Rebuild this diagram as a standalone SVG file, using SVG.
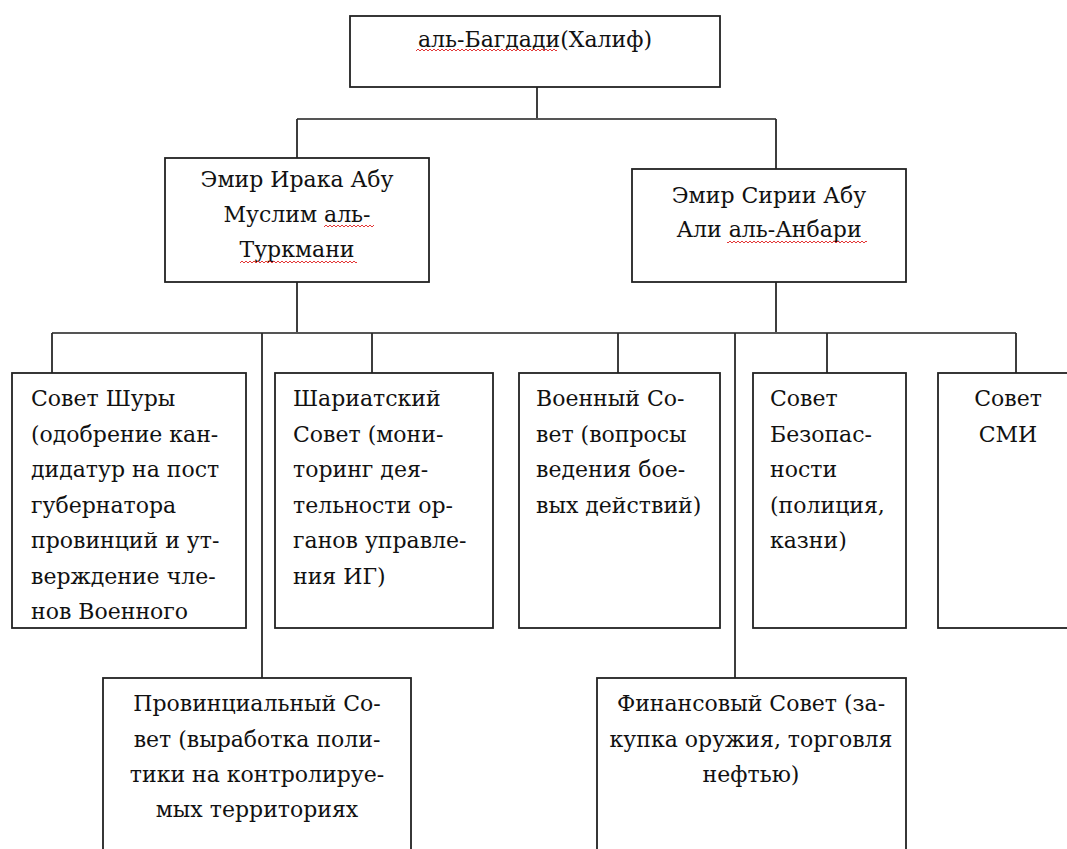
<svg xmlns="http://www.w3.org/2000/svg" width="1067" height="849" viewBox="0 0 1067 849">
<style>
.box{fill:#fff;stroke:#222;stroke-width:1.8}
.ln{stroke:#2a2a2a;stroke-width:1.8;fill:none}
.hl{stroke:#555;stroke-width:2.2;fill:none}
text{font-family:"DejaVu Serif","Liberation Serif",serif;font-size:22px;fill:#111}
.c{text-anchor:middle}
</style>
<defs>
<pattern id="sq" width="4" height="4" patternUnits="userSpaceOnUse">
<polyline points="0,3 2,1 4,3" fill="none" stroke="#e02020" stroke-width="0.9"/>
</pattern>
</defs>
<rect width="1067" height="849" fill="#fff"/>
<g id="connectors">
<path class="ln" d="M537,87 V119"/>
<path class="hl" d="M297,119 H776"/>
<path class="ln" d="M297,119 V158 M776,119 V169"/>
<path class="ln" d="M297,282 V333 M776,282 V333"/>
<path class="hl" d="M52,333 H1016"/>
<path class="ln" d="M52,333 V373 M372,333 V373 M618,333 V373 M827,333 V373 M1016,333 V373"/>
<path class="ln" d="M262,333 V678 M735,333 V678"/>
</g>
<g id="caliph">
<rect class="box" x="350" y="16" width="370" height="71"/>
<text class="c" transform="translate(535,47) scale(1,1)">аль-Багдади(Халиф)</text>
<rect x="416" y="48" width="141" height="4" fill="url(#sq)"/>
</g>
<g id="emir-iraq">
<rect class="box" x="165" y="158" width="264" height="124"/>
<text class="c" transform="translate(297,187) scale(1,1)">Эмир Ирака Абу</text>
<text class="c" transform="translate(297,222) scale(1,1)">Муслим аль-</text>
<text class="c" transform="translate(297,257) scale(1,1)">Туркмани</text>
<rect x="324" y="224" width="50" height="4" fill="url(#sq)"/>
<rect x="240" y="260" width="117" height="4" fill="url(#sq)"/>
</g>
<g id="emir-syria">
<rect class="box" x="632" y="169" width="274" height="113"/>
<text class="c" transform="translate(769,203) scale(1,1)">Эмир Сирии Абу</text>
<text class="c" transform="translate(769,237) scale(1,1)">Али аль-Анбари</text>
<rect x="727" y="240" width="140" height="4" fill="url(#sq)"/>
</g>
<g id="shura">
<rect class="box" x="12" y="373" width="234" height="255"/>
<text transform="translate(31,406) scale(1,1)">Совет Шуры</text>
<text transform="translate(31,441.5) scale(1,1)">(одобрение кан-</text>
<text transform="translate(31,477) scale(1,1)">дидатур на пост</text>
<text transform="translate(31,512.5) scale(1,1)">губернатора</text>
<text transform="translate(31,548) scale(1,1)">провинций и ут-</text>
<text transform="translate(31,583.5) scale(1,1)">верждение чле-</text>
<text transform="translate(31,619) scale(1,1)">нов Военного</text>
</g>
<g id="sharia">
<rect class="box" x="275" y="373" width="218" height="255"/>
<text transform="translate(293,406) scale(1,1)">Шариатский</text>
<text transform="translate(293,441.5) scale(1,1)">Совет (мони-</text>
<text transform="translate(293,477) scale(1,1)">торинг дея-</text>
<text transform="translate(293,512.5) scale(1,1)">тельности ор-</text>
<text transform="translate(293,548) scale(1,1)">ганов управле-</text>
<text transform="translate(293,583.5) scale(1,1)">ния ИГ)</text>
</g>
<g id="military">
<rect class="box" x="519" y="373" width="201" height="255"/>
<text transform="translate(536,406) scale(1,1)">Военный Со-</text>
<text transform="translate(536,441.5) scale(1,1)">вет (вопросы</text>
<text transform="translate(536,477) scale(1,1)">ведения бое-</text>
<text transform="translate(536,512.5) scale(1,1)">вых действий)</text>
</g>
<g id="security">
<rect class="box" x="753" y="373" width="153" height="255"/>
<text transform="translate(770,406) scale(1,1)">Совет</text>
<text transform="translate(770,441.5) scale(1,1)">Безопас-</text>
<text transform="translate(770,477) scale(1,1)">ности</text>
<text transform="translate(770,512.5) scale(1,1)">(полиция,</text>
<text transform="translate(770,548) scale(1,1)">казни)</text>
</g>
<g id="media">
<rect class="box" x="938" y="373" width="140" height="255"/>
<text class="c" transform="translate(1008,406) scale(1,1)">Совет</text>
<text class="c" transform="translate(1008,441.5) scale(1,1)">СМИ</text>
</g>
<g id="provincial">
<rect class="box" x="103" y="678" width="308" height="190"/>
<text class="c" transform="translate(257,711) scale(1,1)">Провинциальный Со-</text>
<text class="c" transform="translate(257,746.5) scale(1,1)">вет (выработка поли-</text>
<text class="c" transform="translate(257,782) scale(1,1)">тики на контролируе-</text>
<text class="c" transform="translate(257,817) scale(1,1)">мых территориях</text>
</g>
<g id="finance">
<rect class="box" x="597" y="678" width="309" height="190"/>
<text class="c" transform="translate(751,711) scale(1,1)">Финансовый Совет (за-</text>
<text class="c" transform="translate(751,746.5) scale(1,1)">купка оружия, торговля</text>
<text class="c" transform="translate(751,782) scale(1,1)">нефтью)</text>
</g>
</svg>
